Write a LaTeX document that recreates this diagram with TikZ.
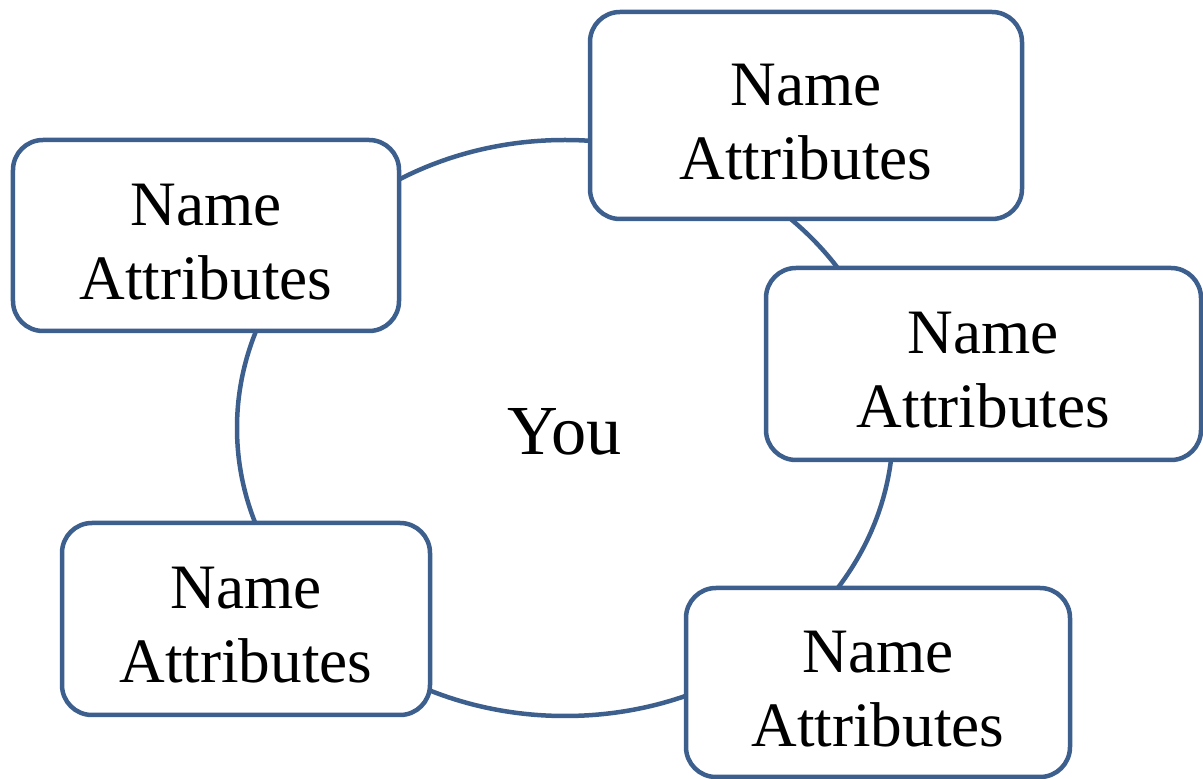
\documentclass[tikz,border=0pt]{standalone}
\usepackage{fontspec}
\setmainfont{Liberation Serif}
\usepackage{tikz}
\usetikzlibrary{shapes.geometric, positioning}
\definecolor{lineColor}{HTML}{3C5F8E}
\tikzstyle{friend} = [rectangle, rounded corners=0.6cm,
draw=lineColor,
line width=0.09cm,
fill=white,
align=center,
inner sep=0pt,
text height=72.7pt,
font=\fontsize{36}{42}\selectfont]
\tikzstyle{ring} = [ellipse,
draw=lineColor,
line width=0.09cm,
inner sep=0pt,
minimum width=13.12cm,
minimum height=11.52cm,
text height=31pt,
font=\fontsize{40}{46}\selectfont]

\begin{document}
\begin{tikzpicture}
    \useasboundingbox (0,0) rectangle (24.06,15.58);
    % Center
    \node[ring] (you) at (11.30,7.02) {You};
    % Friends
    \node[friend, minimum width=7.72cm, minimum height=3.82cm] (topleft) at (4.12,10.87) {Name\\Attributes};
    \node[friend, minimum width=8.64cm, minimum height=4.14cm] (topright) at (16.12,13.27) {Name\\Attributes};
    \node[friend, minimum width=8.70cm, minimum height=3.84cm] (right) at (19.67,8.30) {Name\\Attributes};
    \node[friend, minimum width=7.36cm, minimum height=3.84cm] (bottomleft) at (4.92,3.20) {Name\\Attributes};
    \node[friend, minimum width=7.68cm, minimum height=3.78cm] (bottomright) at (17.56,1.93) {Name\\Attributes};
\end{tikzpicture}
\end{document}
